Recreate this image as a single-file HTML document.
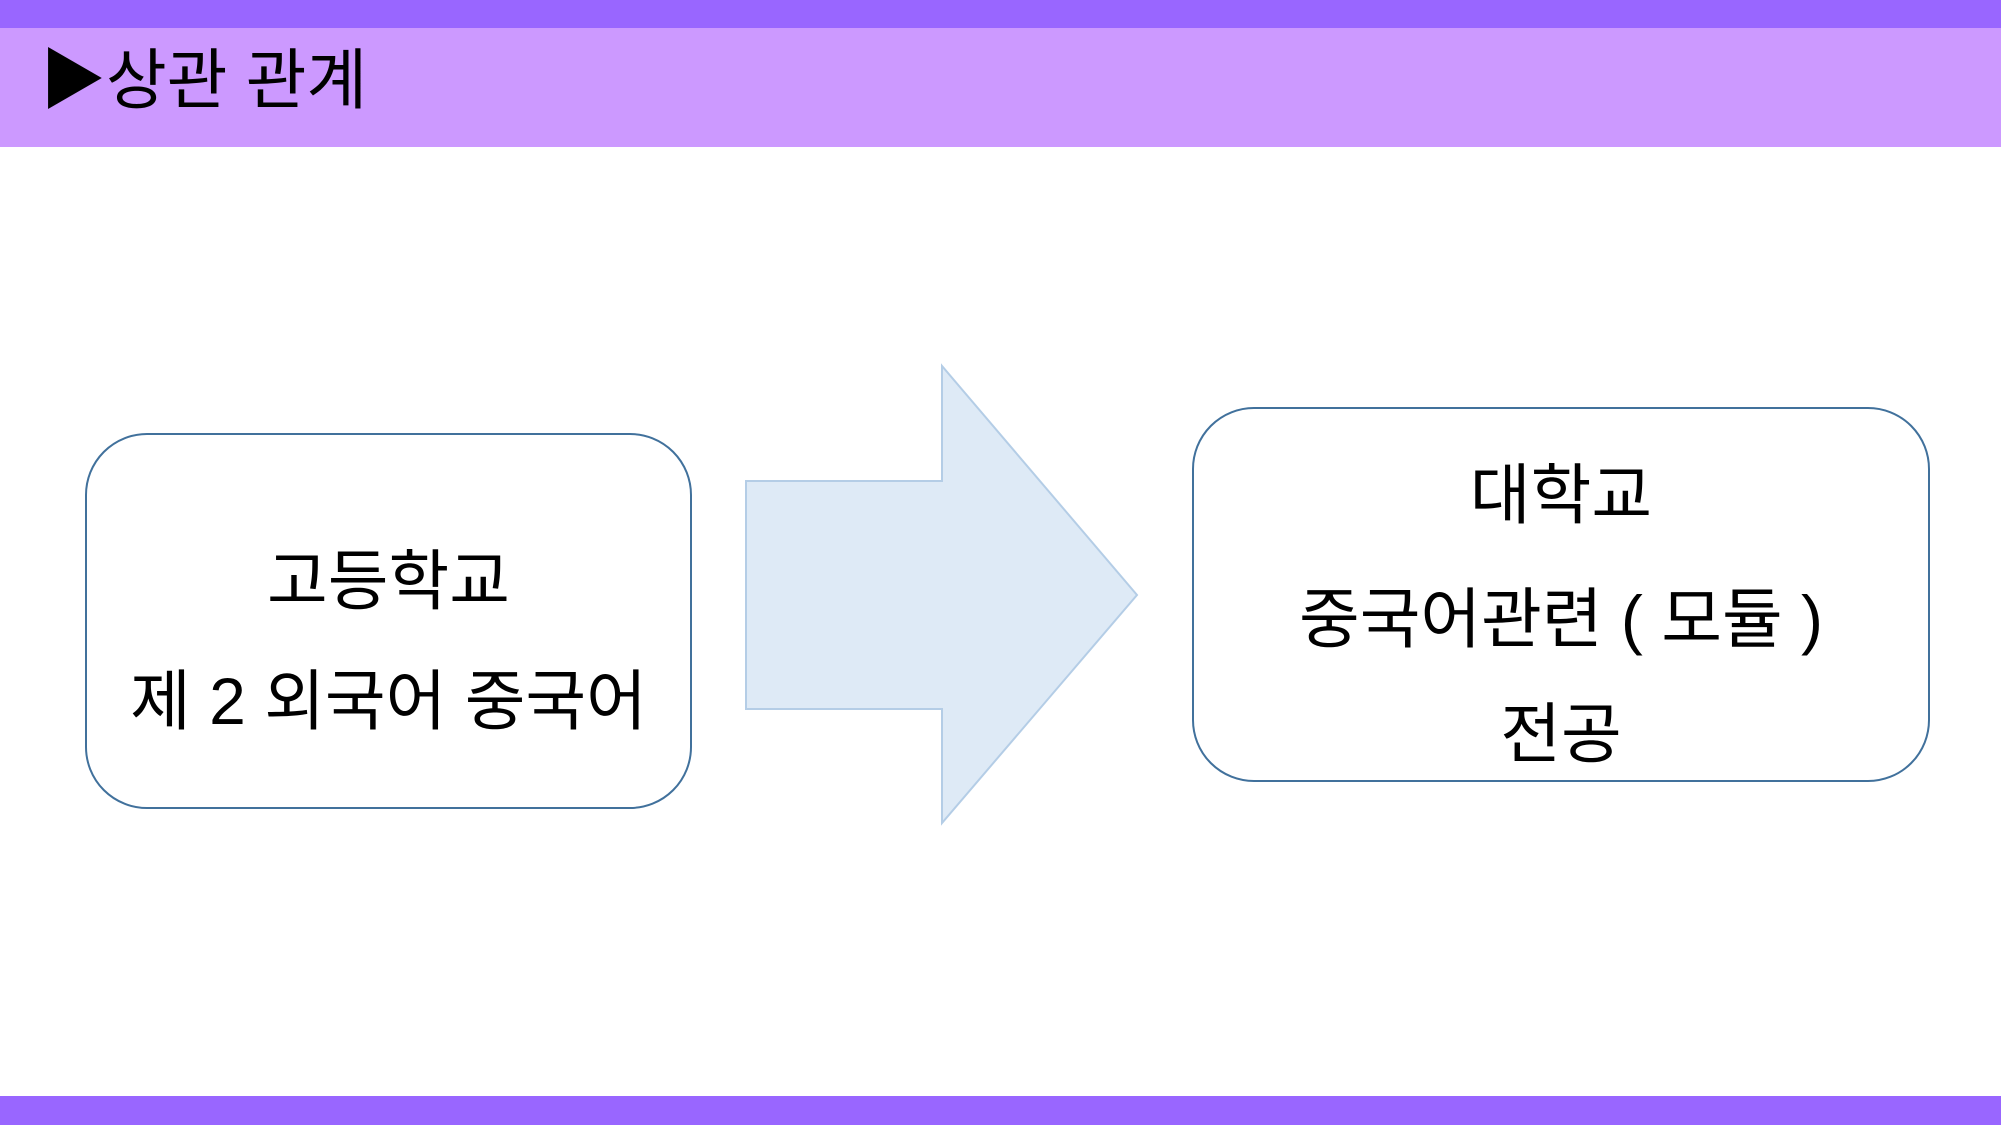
<!DOCTYPE html>
<html><head><meta charset="utf-8"><style>
body{margin:0;width:2001px;height:1125px;position:relative;background:#fff;overflow:hidden;font-family:"Liberation Sans","Noto Sans CJK KR",sans-serif}
.t{position:absolute;white-space:nowrap;color:#000}
</style></head><body>
<div style="position:absolute;left:0;top:0;width:2001px;height:28px;background:#9966ff"></div>
<div style="position:absolute;left:0;top:28px;width:2001px;height:119px;background:#cc99ff"></div>
<div style="position:absolute;left:0;top:1096px;width:2001px;height:29px;background:#9966ff"></div>
<div class="t" style="left:40px;top:38px;font-size:66px;line-height:84px">▶상관 관계</div>
<svg style="position:absolute;left:0;top:0" width="2001" height="1125">
<rect x="86" y="434" width="605" height="374" rx="61" fill="#fff" stroke="#41719c" stroke-width="2"/>
<rect x="1193" y="408" width="736" height="373" rx="61" fill="#fff" stroke="#41719c" stroke-width="2"/>
<polygon points="746,481 942,481 942,366 1137,595 942,823 942,709 746,709" fill="#deeaf6" stroke="#b4cde6" stroke-width="2"/>
</svg>
<div class="t" style="left:86px;width:605px;text-align:center;top:541px;font-size:66px;line-height:80px">고등학교</div>
<div class="t" style="left:86px;width:605px;text-align:center;top:661px;font-size:66px;line-height:80px">제 2 외국어 중국어</div>
<div class="t" style="left:1193px;width:736px;text-align:center;top:455px;font-size:66px;line-height:80px">대학교</div>
<div class="t" style="left:1193px;width:736px;text-align:center;top:579px;font-size:66px;line-height:80px">중국어관련 ( 모듈 )</div>
<div class="t" style="left:1193px;width:736px;text-align:center;top:694px;font-size:66px;line-height:80px">전공</div>
</body></html>
